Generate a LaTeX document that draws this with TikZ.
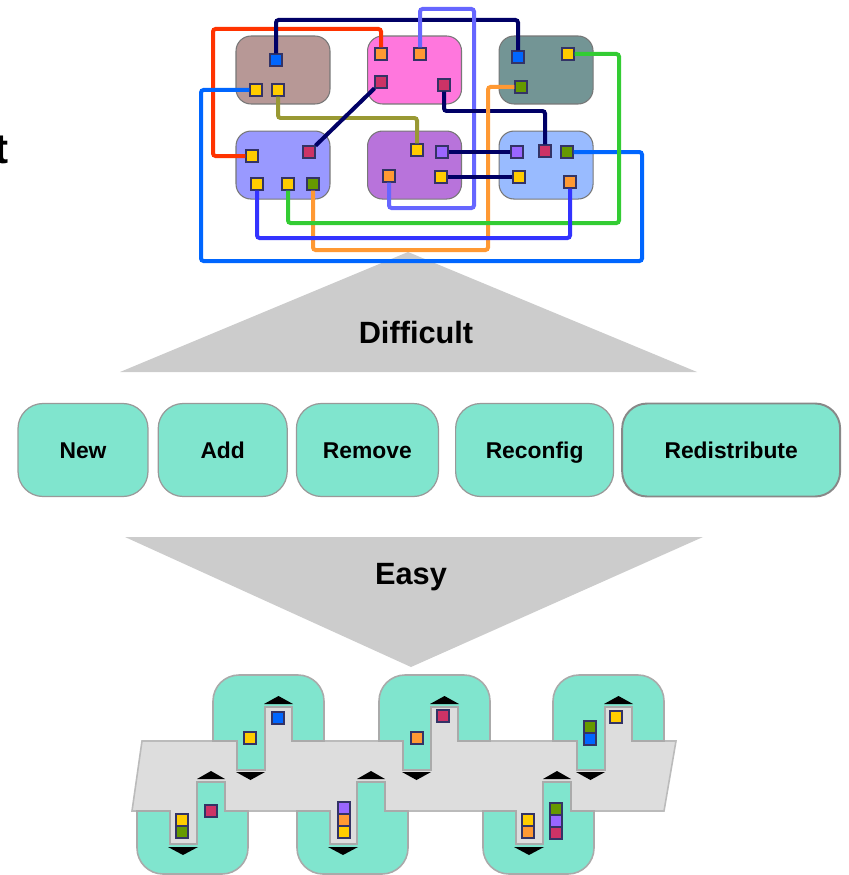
\documentclass[tikz,border=0pt]{standalone}
\usepackage{fontspec}
\setmainfont{Liberation Sans}
\usepackage{xcolor}
\usetikzlibrary{positioning}

\definecolor{hostbrown}{HTML}{B79896}
\definecolor{hostpink}{HTML}{FF77DD}
\definecolor{hostslate}{HTML}{739595}
\definecolor{hostlav}{HTML}{9999FF}
\definecolor{hostpurple}{HTML}{B873DB}
\definecolor{hostsky}{HTML}{99BBFF}
\definecolor{hostedge}{HTML}{777777}
\definecolor{portedge}{HTML}{333366}
\definecolor{pyellow}{HTML}{FFCC00}
\definecolor{porange}{HTML}{FF9933}
\definecolor{pcrimson}{HTML}{CC3366}
\definecolor{pblue}{HTML}{0066FF}
\definecolor{pgreen}{HTML}{669900}
\definecolor{ppurple}{HTML}{9966FF}
\definecolor{wred}{HTML}{FF3300}
\definecolor{wnavy}{HTML}{000066}
\definecolor{wlav}{HTML}{6666FF}
\definecolor{wolive}{HTML}{999933}
\definecolor{wgreen}{HTML}{33CC33}
\definecolor{wblue}{HTML}{3333FF}
\definecolor{btnfill}{HTML}{80E5CE}
\definecolor{btnedge}{HTML}{999999}
\definecolor{btnedgedark}{HTML}{888888}
\definecolor{arrowgray}{HTML}{CCCCCC}
\definecolor{bandgray}{HTML}{DDDDDD}
\definecolor{bandedge}{HTML}{BBBBBB}
\definecolor{modedge}{HTML}{AAAAAA}

\begin{document}
\begin{tikzpicture}[x=0.02cm, y=-0.02cm,
  host/.style={draw=hostedge, line width=0.6pt, rounded corners=0.3cm,
               minimum width=1.88cm, minimum height=1.36cm, inner sep=0pt},
  port/.style={draw=portedge, line width=0.6pt, minimum size=0.24cm, inner sep=0pt},
  wire/.style={line width=0.08cm, rounded corners=1.5pt},
  btn/.style={draw=btnedge, fill=btnfill, line width=0.7pt, rounded corners=0.5cm,
              minimum height=1.86cm, inner sep=0pt, text height=9.3pt, text depth=0pt,
              font=\fontsize{13}{15}\selectfont\bfseries},
  big/.style={font=\fontsize{17.5}{20}\selectfont\bfseries},
  band/.style={fill=bandgray, draw=bandedge, line width=0.9pt},
  module/.style={fill=btnfill, draw=modedge, line width=0.9pt}
]
\useasboundingbox (0,0) rectangle (848,875);

\node[anchor=base east, inner sep=0pt, font=\fontsize{24}{28}\selectfont\bfseries] (cut) at (9,163) {t};

% arrows
\fill[arrowgray] (120,372) -- (408,252) -- (697,372) -- cycle;
\node[big] (hard) at (416,333) {Difficult};
\fill[arrowgray] (125,537) -- (703,537) -- (411,667) -- cycle;
\node[big] (easy) at (411,577) {Easy};

% hosts
\node[host, fill=hostbrown] (hostA) at (283,70) {};
\node[host, fill=hostpink, right=0.73cm of hostA] (hostB) {};
\node[host, fill=hostslate, right=0.73cm of hostB] (hostC) {};
\node[host, fill=hostlav, below=0.52cm of hostA] (hostD) {};
\node[host, fill=hostpurple, below=0.52cm of hostB] (hostE) {};
\node[host, fill=hostsky, below=0.52cm of hostC] (hostF) {};

% ports
\node[port, fill=pblue] (aB) at (276,60) {};
\node[port, fill=pyellow] (aY1) at (256,90) {};
\node[port, fill=pyellow] (aY2) at (278,90) {};
\node[port, fill=porange] (bO1) at (381,54) {};
\node[port, fill=porange] (bO2) at (420,54) {};
\node[port, fill=pcrimson] (bC1) at (381,82) {};
\node[port, fill=pcrimson] (bC2) at (444,85) {};
\node[port, fill=pblue] (cB) at (518,57) {};
\node[port, fill=pyellow] (cY) at (568,54) {};
\node[port, fill=pgreen] (cG) at (521,87) {};
\node[port, fill=pyellow] (dY1) at (252,156) {};
\node[port, fill=pcrimson] (dC) at (309,152) {};
\node[port, fill=pyellow] (dY2) at (257,184) {};
\node[port, fill=pyellow] (dY3) at (288,184) {};
\node[port, fill=pgreen] (dG) at (313,184) {};
\node[port, fill=pyellow] (eY1) at (417,150) {};
\node[port, fill=ppurple] (eP) at (442,152) {};
\node[port, fill=porange] (eO) at (389,176) {};
\node[port, fill=pyellow] (eY2) at (441,177) {};
\node[port, fill=ppurple] (fP) at (517,152) {};
\node[port, fill=pcrimson] (fC) at (545,151) {};
\node[port, fill=pgreen] (fG) at (567,152) {};
\node[port, fill=pyellow] (fY) at (519,177) {};
\node[port, fill=porange] (fO) at (570,182) {};

% wires
\draw[wire, wred] (bO1) |- (213,29) |- (dY1);
\draw[wire, wnavy] (aB) |- (518,20) -- (cB);
\draw[wire, wlav] (bO2) |- (474,9) |- (389,208) -- (eO);
\draw[wire, pblue] (aY1) -| (201,261) -| (642,152) -- (fG);
\draw[wire, wolive] (aY2) |- (417,118) -- (eY1);
\draw[wire, wnavy] (bC1) -- (dC);
\draw[wire, wnavy] (bC2) |- (545,111) -- (fC);
\draw[wire, porange] (cG) -| (488,250) -| (dG);
\draw[wire, wgreen] (cY) -| (619,223) -| (dY3);
\draw[wire, wblue] (dY2) |- (570,238) -- (fO);
\draw[wire, wnavy] (eP) -- (fP);
\draw[wire, wnavy] (eY2) -- (fY);

% operations
\node[btn, minimum width=2.6cm] (new) at (83,450) {New};
\node[btn, minimum width=2.58cm, right=0.18cm of new] (add) {Add};
\node[btn, minimum width=2.84cm, right=0.16cm of add] (remove) {Remove};
\node[btn, minimum width=3.16cm, right=0.32cm of remove] (reconfig) {Reconfig};
\node[btn, minimum width=4.36cm, right=0.14cm of reconfig, draw=btnedgedark,
      line width=1.1pt] (redist) {Redistribute};

% chain of modules
\filldraw[band] (142,741) -- (676,741) -- (664,811) -- (132,811) -- cycle;
\foreach \x in {213,379,553} {
  \fill[bandgray] ({\x+52},706) rectangle ({\x+79},742);
  \filldraw[module] ({\x+79},741) -- ({\x+79},707) -- ({\x+52},707) -- ({\x+52},770)
    -- ({\x+24},770) -- ({\x+24},741) -- (\x,741) [rounded corners=0.52cm]
    -- (\x,675) -- ({\x+111},675) [sharp corners] -- ({\x+111},741) -- cycle;
  \fill ({\x+65.5},696) -- ({\x+80},704) -- ({\x+51},704) -- cycle;
  \fill ({\x+37.5},780) -- ({\x+23},772) -- ({\x+52},772) -- cycle;
}
\foreach \x in {137,297,483} {
  \fill[bandgray] ({\x+33},810) rectangle ({\x+60},844);
  \filldraw[module] ({\x+33},811) -- ({\x+33},844) -- ({\x+60},844) -- ({\x+60},782)
    -- ({\x+88},782) -- ({\x+88},811) -- ({\x+111},811) [rounded corners=0.52cm]
    -- ({\x+111},874) -- (\x,874) [sharp corners] -- (\x,811) -- cycle;
  \fill ({\x+74},771) -- ({\x+88},779) -- ({\x+60},779) -- cycle;
  \fill ({\x+46},855) -- ({\x+31},847) -- ({\x+61},847) -- cycle;
}

% ports on the chain
\node[port, fill=pblue] (u1a) at (278,718) {};
\node[port, fill=pyellow] (u1b) at (250,738) {};
\node[port, fill=pcrimson] (u2a) at (443,716) {};
\node[port, fill=porange] (u2b) at (417,738) {};
\node[port, fill=pyellow] (u3a) at (616,717) {};
\node[port, fill=pgreen] (u3b) at (590,727) {};
\node[port, fill=pblue] (u3c) at (590,739) {};
\node[port, fill=pyellow] (l1a) at (182,820) {};
\node[port, fill=pgreen] (l1b) at (182,832) {};
\node[port, fill=pcrimson] (l1c) at (211,811) {};
\node[port, fill=ppurple] (l2a) at (344,808) {};
\node[port, fill=porange] (l2b) at (344,820) {};
\node[port, fill=pyellow] (l2c) at (344,832) {};
\node[port, fill=pyellow] (l3a) at (528,820) {};
\node[port, fill=porange] (l3b) at (528,832) {};
\node[port, fill=pgreen] (l3c) at (556,809) {};
\node[port, fill=ppurple] (l3d) at (556,821) {};
\node[port, fill=pcrimson] (l3e) at (556,833) {};
\end{tikzpicture}
\end{document}
